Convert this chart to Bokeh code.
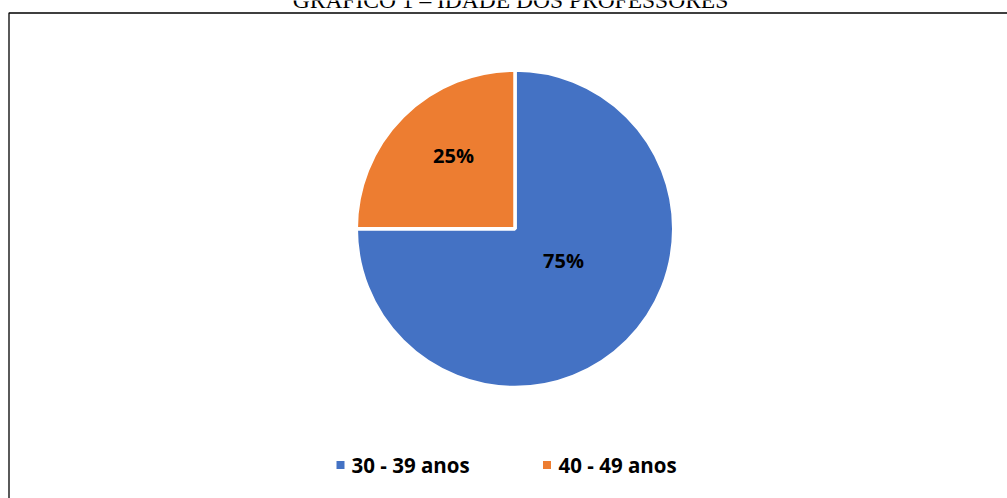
import numpy as np
from bokeh.plotting import figure
from bokeh.models import Range1d, ColumnDataSource
from bokeh.core.properties import value
from bokeh.embed import file_html
from bokeh.resources import INLINE

# ---- data ----
title_text = "GRÁFICO 1 – IDADE DOS PROFESSORES"
categories = ["30 - 39 anos", "40 - 49 anos"]
shares = [75, 25]
colors = ["#4472C4", "#ED7D31"]

# ---- layout (page pixel coordinates; canvas covers the whole window) ----
W, H = 1007, 498
def py(page_y):
    return H - page_y

cx, cy = 514.5, py(228.3)
R = 158.75
label_offsets = [(48.5, -32.0), (-61.5, 73.0)]
legend_square_x = [340.0, 546.5]
legend_text_x = [351.0, 558.0]
legend_y = py(464.5)

p = figure(width=W, height=H, output_backend="svg", toolbar_location=None,
           x_range=Range1d(0, W), y_range=Range1d(0, H),
           min_border=0, min_border_left=0, min_border_right=0,
           min_border_top=0, min_border_bottom=0,
           background_fill_color="white", border_fill_color="white")
p.axis.visible = False
p.xgrid.visible = False
p.ygrid.visible = False
p.outline_line_color = None

# border of chart box (only top and left visible)
p.line(x=[8.5, 8.5, 1100], y=[py(520), py(12.5), py(12.5)], line_color="black", line_width=1.3)

# title (mostly cut off at the top)
p.text(x=[510], y=[py(-0.5)], text=[title_text], text_font=value("Liberation Serif"),
       text_font_size="23.5px", text_color="black", text_align="center",
       text_baseline="middle")

# pie
vals = np.array(shares, dtype=float)
frac = np.concatenate([[0], np.cumsum(vals) / vals.sum()])
a = np.deg2rad(90 - frac * 360)
src = ColumnDataSource(dict(start=a[1:], end=a[:-1], color=colors))
p.wedge(x=cx, y=cy, radius=R, start_angle="start", end_angle="end", color="color",
        line_color="white", line_width=3.5, source=src)

# data labels
lab = [f"{int(v)}%" for v in shares]
lx = [cx + o[0] for o in label_offsets]
ly = [cy + o[1] for o in label_offsets]
p.text(x=lx, y=ly, text=lab, text_font=value("Open Sans"), text_font_style="bold",
       text_font_size="20px", text_color="black", text_align="center", text_baseline="middle")

# legend
p.rect(x=legend_square_x, y=[legend_y] * 2, width=8, height=8, color=colors, line_color=None)
p.text(x=legend_text_x, y=[legend_y] * 2, text=categories, text_font=value("Open Sans"),
       text_font_style="bold", text_font_size="20.5px", text_color="black",
       text_align="left", text_baseline="middle")

open("out.html", "w").write(file_html(p, INLINE))
